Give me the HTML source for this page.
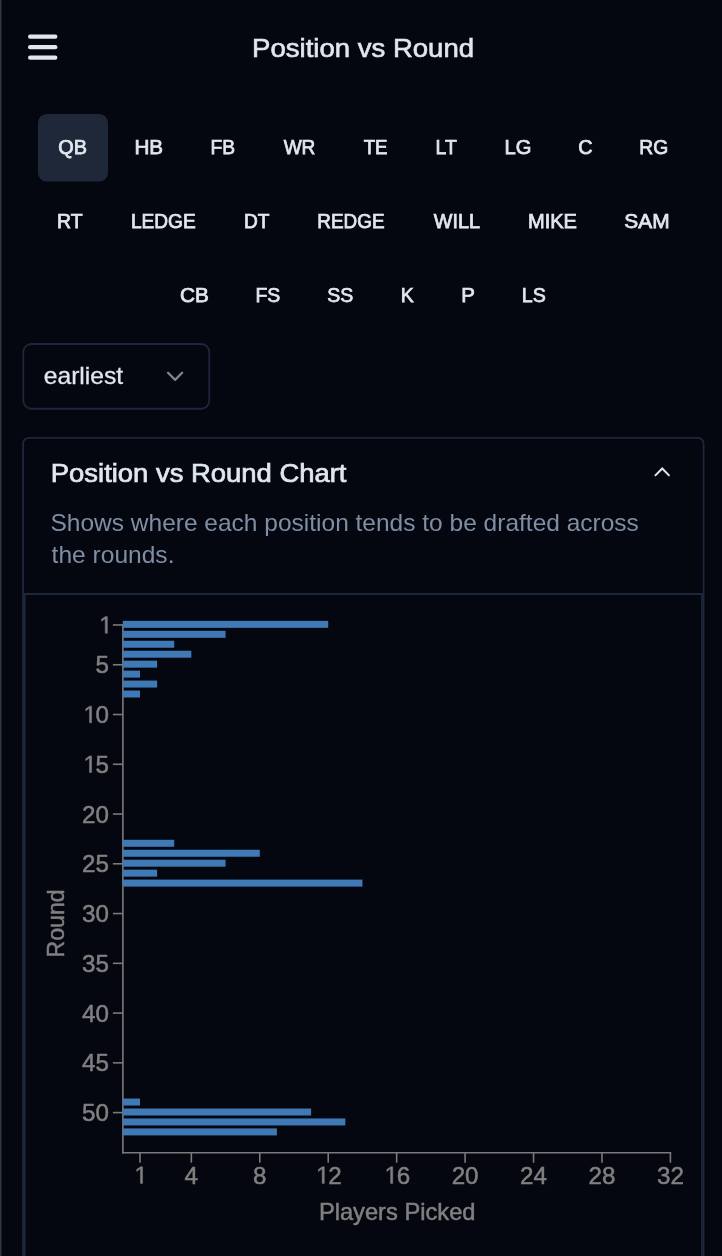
<!DOCTYPE html>
<html lang="en"><head><meta charset="utf-8"><title>Position vs Round</title>
<style>
html,body{margin:0;padding:0;background:#040710;}
body{width:722px;height:1256px;position:relative;overflow:hidden;font-family:"Liberation Sans",sans-serif;}
.page{position:absolute;left:0;top:0;width:722px;height:1256px;will-change:transform;}
svg{position:absolute;left:0;top:0;overflow:hidden;}
.t{position:absolute;left:0;top:0;margin:0;padding:0;border:0;background:none;font-family:"Liberation Sans",sans-serif;font-weight:normal;white-space:nowrap;transform-origin:0 0;display:block;}
</style></head><body>
<main class="page">
<svg class="edge" width="4" height="1256" viewBox="0 0 4 1256"><rect x="0" y="0" width="1.5" height="1256" fill="#2f3b3e"/><rect x="1.5" y="0" width="0.6" height="1256" fill="#151c22"/></svg>
<header>
<svg class="menu" width="722" height="80" viewBox="0 0 722 80" role="img" aria-label="Menu"><rect x="28" y="34.60" width="29.4" height="4.2" rx="2.1" fill="#e1e7ef"/><rect x="28" y="45.10" width="29.4" height="4.2" rx="2.1" fill="#e1e7ef"/><rect x="28" y="55.60" width="29.4" height="4.2" rx="2.1" fill="#e1e7ef"/></svg>
<h1 class="t" style="font-size:25.4px;line-height:25.4px;color:#e1e7ef;transform:translate(252.09px,35.75px) scale(1.0847,1.0000);-webkit-text-stroke:0.6px #e1e7ef;">Position vs Round</h1>
</header>
<nav class="tabs">
<svg width="722" height="330" viewBox="0 0 722 330"><rect x="38" y="114" width="70" height="67.5" rx="8.8" fill="#1f2839"/></svg>
<button type="button" class="t tab active" style="font-size:19.9px;line-height:19.9px;color:#e1e7ef;transform:translate(58.34px,138.42px) scale(0.9990,1.0000);-webkit-text-stroke:0.75px #e1e7ef;">QB</button>
<button type="button" class="t tab" style="font-size:19.9px;line-height:19.9px;color:#e1e7ef;transform:translate(134.40px,138.42px) scale(1.0388,1.0000);-webkit-text-stroke:0.75px #e1e7ef;">HB</button>
<button type="button" class="t tab" style="font-size:19.9px;line-height:19.9px;color:#e1e7ef;transform:translate(210.51px,138.42px) scale(0.9678,1.0000);-webkit-text-stroke:0.75px #e1e7ef;">FB</button>
<button type="button" class="t tab" style="font-size:19.9px;line-height:19.9px;color:#e1e7ef;transform:translate(283.64px,138.42px) scale(0.9566,1.0000);-webkit-text-stroke:0.75px #e1e7ef;">WR</button>
<button type="button" class="t tab" style="font-size:19.9px;line-height:19.9px;color:#e1e7ef;transform:translate(363.66px,138.42px) scale(0.9363,1.0000);-webkit-text-stroke:0.75px #e1e7ef;">TE</button>
<button type="button" class="t tab" style="font-size:19.9px;line-height:19.9px;color:#e1e7ef;transform:translate(435.62px,138.42px) scale(0.9746,1.0000);-webkit-text-stroke:0.75px #e1e7ef;">LT</button>
<button type="button" class="t tab" style="font-size:19.9px;line-height:19.9px;color:#e1e7ef;transform:translate(504.53px,138.42px) scale(1.0123,1.0000);-webkit-text-stroke:0.75px #e1e7ef;">LG</button>
<button type="button" class="t tab" style="font-size:19.9px;line-height:19.9px;color:#e1e7ef;transform:translate(578.26px,138.42px) scale(0.9944,1.0000);-webkit-text-stroke:0.75px #e1e7ef;">C</button>
<button type="button" class="t tab" style="font-size:19.9px;line-height:19.9px;color:#e1e7ef;transform:translate(639.35px,138.42px) scale(0.9685,1.0000);-webkit-text-stroke:0.75px #e1e7ef;">RG</button>
<button type="button" class="t tab" style="font-size:19.9px;line-height:19.9px;color:#e1e7ef;transform:translate(57.10px,212.42px) scale(0.9772,1.0000);-webkit-text-stroke:0.75px #e1e7ef;">RT</button>
<button type="button" class="t tab" style="font-size:19.9px;line-height:19.9px;color:#e1e7ef;transform:translate(130.90px,212.42px) scale(0.9600,1.0000);-webkit-text-stroke:0.75px #e1e7ef;">LEDGE</button>
<button type="button" class="t tab" style="font-size:19.9px;line-height:19.9px;color:#e1e7ef;transform:translate(243.88px,212.42px) scale(0.9596,1.0000);-webkit-text-stroke:0.75px #e1e7ef;">DT</button>
<button type="button" class="t tab" style="font-size:19.9px;line-height:19.9px;color:#e1e7ef;transform:translate(317.34px,212.42px) scale(0.9497,1.0000);-webkit-text-stroke:0.75px #e1e7ef;">REDGE</button>
<button type="button" class="t tab" style="font-size:19.9px;line-height:19.9px;color:#e1e7ef;transform:translate(433.76px,212.42px) scale(0.9934,1.0000);-webkit-text-stroke:0.75px #e1e7ef;">WILL</button>
<button type="button" class="t tab" style="font-size:19.9px;line-height:19.9px;color:#e1e7ef;transform:translate(527.97px,212.42px) scale(1.0081,1.0000);-webkit-text-stroke:0.75px #e1e7ef;">MIKE</button>
<button type="button" class="t tab" style="font-size:19.9px;line-height:19.9px;color:#e1e7ef;transform:translate(624.26px,212.42px) scale(1.0510,1.0000);-webkit-text-stroke:0.75px #e1e7ef;">SAM</button>
<button type="button" class="t tab" style="font-size:19.9px;line-height:19.9px;color:#e1e7ef;transform:translate(180.12px,286.42px) scale(1.0438,1.0000);-webkit-text-stroke:0.75px #e1e7ef;">CB</button>
<button type="button" class="t tab" style="font-size:19.9px;line-height:19.9px;color:#e1e7ef;transform:translate(255.40px,286.42px) scale(0.9779,1.0000);-webkit-text-stroke:0.75px #e1e7ef;">FS</button>
<button type="button" class="t tab" style="font-size:19.9px;line-height:19.9px;color:#e1e7ef;transform:translate(327.18px,286.42px) scale(0.9808,1.0000);-webkit-text-stroke:0.75px #e1e7ef;">SS</button>
<button type="button" class="t tab" style="font-size:19.9px;line-height:19.9px;color:#e1e7ef;transform:translate(400.79px,286.42px) scale(0.9726,1.0000);-webkit-text-stroke:0.75px #e1e7ef;">K</button>
<button type="button" class="t tab" style="font-size:19.9px;line-height:19.9px;color:#e1e7ef;transform:translate(461.24px,286.42px) scale(1.0278,1.0000);-webkit-text-stroke:0.75px #e1e7ef;">P</button>
<button type="button" class="t tab" style="font-size:19.9px;line-height:19.9px;color:#e1e7ef;transform:translate(521.76px,286.42px) scale(0.9855,1.0000);-webkit-text-stroke:0.75px #e1e7ef;">LS</button>
</nav>
<div class="select">
<svg width="722" height="420" viewBox="0 0 722 420"><rect x="23.3" y="344.0" width="186.0" height="64.75" rx="8.2" fill="none" stroke="#1e273a" stroke-width="1.8"/><path d="M168.05 372.75L175.1 379.85L182.15 372.75" fill="none" stroke="#7f8490" stroke-width="2.3" stroke-linecap="round" stroke-linejoin="round"/></svg>
<span class="t" style="font-size:24.0px;line-height:24.0px;color:#e1e7ef;transform:translate(43.75px,364.43px) scale(1.0258,1.0000);-webkit-text-stroke:0.3px #e1e7ef;">earliest</span>
</div>
<section class="card">
<svg width="722" height="1256" viewBox="0 0 722 1256"><rect x="23.1" y="437.8" width="680.5" height="900" rx="5.8" fill="none" stroke="#1e273a" stroke-width="1.8"/><path d="M24.7 1300V594.0H702.0V1300" fill="none" stroke="#1e273a" stroke-width="1.8"/><path d="M654.9 475.9l7.3-7.4 7.3 7.4" fill="none" stroke="#e1e7ef" stroke-width="2" stroke-linecap="butt" stroke-linejoin="miter"/></svg>
<h2 class="t" style="font-size:25.6px;line-height:25.6px;color:#e1e7ef;transform:translate(50.79px,460.58px) scale(1.0713,1.0000);-webkit-text-stroke:0.7px #e1e7ef;">Position vs Round Chart</h2>
<p class="desc">
<span class="t" style="font-size:23.2px;line-height:23.2px;color:#7f8ea3;transform:translate(50.47px,512.36px) scale(1.0567,1.0000);">Shows where each position tends to be drafted across</span>
<span class="t" style="font-size:23.2px;line-height:23.2px;color:#7f8ea3;transform:translate(51.58px,544.36px) scale(1.0593,1.0000);">the rounds.</span>
</p>
<div class="chart-box">
<svg class="chart" width="722" height="1256" viewBox="0 0 722 1256">
<g stroke="#7a7a7a" stroke-width="1.6" fill="none">
<path d="M122.90,624.15V1153.51"/>
<path d="M122.10,1152.71H671.22"/>
<path d="M112.90,624.95H122.90"/>
<path d="M112.90,664.76H122.90"/>
<path d="M112.90,714.52H122.90"/>
<path d="M112.90,764.28H122.90"/>
<path d="M112.90,814.04H122.90"/>
<path d="M112.90,863.80H122.90"/>
<path d="M112.90,913.56H122.90"/>
<path d="M112.90,963.32H122.90"/>
<path d="M112.90,1013.08H122.90"/>
<path d="M112.90,1062.84H122.90"/>
<path d="M112.90,1112.60H122.90"/>
<path d="M140.01,1152.71V1162.71"/>
<path d="M191.34,1152.71V1162.71"/>
<path d="M259.78,1152.71V1162.71"/>
<path d="M328.22,1152.71V1162.71"/>
<path d="M396.66,1152.71V1162.71"/>
<path d="M465.10,1152.71V1162.71"/>
<path d="M533.54,1152.71V1162.71"/>
<path d="M601.98,1152.71V1162.71"/>
<path d="M670.42,1152.71V1162.71"/>
</g>
<g fill="#3f7ab6">
<rect x="122.80" y="620.85" width="205.42" height="7"/>
<rect x="122.80" y="630.80" width="102.76" height="7"/>
<rect x="122.80" y="640.75" width="51.43" height="7"/>
<rect x="122.80" y="650.71" width="68.54" height="7"/>
<rect x="122.80" y="660.66" width="34.32" height="7"/>
<rect x="122.80" y="670.61" width="17.21" height="7"/>
<rect x="122.80" y="680.56" width="34.32" height="7"/>
<rect x="122.80" y="690.51" width="17.21" height="7"/>
<rect x="122.80" y="839.79" width="51.43" height="7"/>
<rect x="122.80" y="849.75" width="136.98" height="7"/>
<rect x="122.80" y="859.70" width="102.76" height="7"/>
<rect x="122.80" y="869.65" width="34.32" height="7"/>
<rect x="122.80" y="879.60" width="239.64" height="7"/>
<rect x="122.80" y="1098.55" width="17.21" height="7"/>
<rect x="122.80" y="1108.50" width="188.31" height="7"/>
<rect x="122.80" y="1118.45" width="222.53" height="7"/>
<rect x="122.80" y="1128.40" width="154.09" height="7"/>
</g>
<g fill="#808080" stroke="#808080" stroke-width="0.5" stroke-linejoin="round" style="font-family:'Liberation Sans',sans-serif;font-size:24.2px">
<path transform="translate(99.13,633.25) scale(0.01182,-0.01182)" d="M515,0V1237L197,1010V1180L530,1409H696V0Z" stroke-width="42.3"/>
<text x="95.54" y="673.36">5</text>
<path transform="translate(83.38,722.82) scale(0.01182,-0.01182)" d="M515,0V1237L197,1010V1180L530,1409H696V0Z" stroke-width="42.3"/><text x="95.54" y="723.12">0</text>
<path transform="translate(83.38,772.58) scale(0.01182,-0.01182)" d="M515,0V1237L197,1010V1180L530,1409H696V0Z" stroke-width="42.3"/><text x="95.54" y="772.88">5</text>
<text x="82.08" y="822.64">20</text>
<text x="82.08" y="872.40">25</text>
<text x="82.08" y="922.16">30</text>
<text x="82.08" y="971.92">35</text>
<text x="82.08" y="1021.68">40</text>
<text x="82.08" y="1071.44">45</text>
<text x="82.08" y="1121.20">50</text>
<path transform="translate(134.33,1183.41) scale(0.01182,-0.01182)" d="M515,0V1237L197,1010V1180L530,1409H696V0Z" stroke-width="42.3"/>
<text x="184.61" y="1183.71">4</text>
<text x="253.05" y="1183.71">8</text>
<path transform="translate(316.06,1183.41) scale(0.01182,-0.01182)" d="M515,0V1237L197,1010V1180L530,1409H696V0Z" stroke-width="42.3"/><text x="328.22" y="1183.71">2</text>
<path transform="translate(384.50,1183.41) scale(0.01182,-0.01182)" d="M515,0V1237L197,1010V1180L530,1409H696V0Z" stroke-width="42.3"/><text x="396.66" y="1183.71">6</text>
<text x="451.64" y="1183.71">20</text>
<text x="520.08" y="1183.71">24</text>
<text x="588.52" y="1183.71">28</text>
<text x="656.96" y="1183.71">32</text>
<text x="397.2" y="1220.0" text-anchor="middle" textLength="156.6" lengthAdjust="spacingAndGlyphs" style="font-size:24px">Players Picked</text>
<text transform="translate(64.3,923.4) rotate(-90)" text-anchor="middle" textLength="68.1" lengthAdjust="spacingAndGlyphs" style="font-size:24px">Round</text>
</g></svg>
</div>
</section>
</main>
</body></html>
